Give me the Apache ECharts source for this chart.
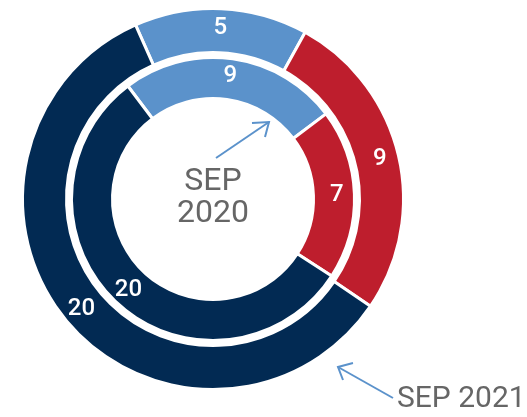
<!DOCTYPE html>
<html>
<head>
<meta charset="utf-8">
<title>Sep 2020 vs Sep 2021</title>
<script src="https://cdn.jsdelivr.net/npm/echarts@6/dist/echarts.min.js"></script>
<style>
  html, body { margin: 0; padding: 0; background: #fff; }
  #chart { width: 527px; height: 417px; }
</style>
</head>
<body>
<div id="chart"></div>
<script>
// 数据
const categories = ['A', 'B', 'C'];
const sep2020 = [9, 7, 20];   // 内圈
const sep2021 = [5, 9, 20];   // 外圈
const periodLabels = ['SEP\n2020', 'SEP 2021'];

const colors = ['#5b92cb', '#be1e2d', '#022a53'];
const arrowColor = '#5b92cb';
const textGray = '#666666';

function toData(values) {
  return values.map((v, i) => ({
    name: categories[i],
    value: v,
    itemStyle: { color: colors[i] }
  }));
}

const ringLabel = {
  show: true,
  position: 'inside',
  formatter: '{c}',
  color: '#fff',
  fontSize: 24,
  fontWeight: 500,
  fontFamily: 'Roboto'
};

const ringStyle = { borderColor: '#fff', borderWidth: 3 };

// 箭头 (注释用)
function arrow(x1, y1, x2, y2, a1, a2) {
  return {
    type: 'group',
    children: [
      { type: 'line', shape: { x1, y1, x2, y2 }, style: { stroke: arrowColor, lineWidth: 2 } },
      { type: 'polyline', shape: { points: [a1, [x2, y2], a2] }, style: { stroke: arrowColor, lineWidth: 2, fill: null } }
    ]
  };
}

const chart = echarts.init(document.getElementById('chart'));

const option = {
  backgroundColor: '#fff',
  animation: false,
  series: [
    {
      name: 'SEP 2021',
      type: 'pie',
      center: [213, 199],
      radius: [146.5, 190.5],
      startAngle: 114,
      clockwise: true,
      silent: true,
      itemStyle: ringStyle,
      label: ringLabel,
      labelLine: { show: false },
      data: toData(sep2021)
    },
    {
      name: 'SEP 2020',
      type: 'pie',
      center: [213, 199],
      radius: [100.5, 141.5],
      startAngle: 127,
      clockwise: true,
      silent: true,
      itemStyle: ringStyle,
      label: ringLabel,
      labelLine: { show: false },
      data: toData(sep2020)
    }
  ],
  graphic: [
    {
      type: 'text',
      x: 213,
      y: 166,
      style: {
        text: periodLabels[0],
        textAlign: 'center',
        fill: textGray,
        fontSize: 32,
        lineHeight: 32,
        fontFamily: 'Roboto'
      }
    },
    {
      type: 'text',
      x: 397,
      y: 384,
      style: {
        text: periodLabels[1],
        fill: textGray,
        fontSize: 30,
        fontFamily: 'Roboto'
      }
    },
    arrow(216, 158, 269, 122, [252, 123], [265, 137]),
    arrow(393, 398, 338, 367, [353, 363], [343, 380])
  ]
};

chart.setOption(option);
</script>
</body>
</html>
